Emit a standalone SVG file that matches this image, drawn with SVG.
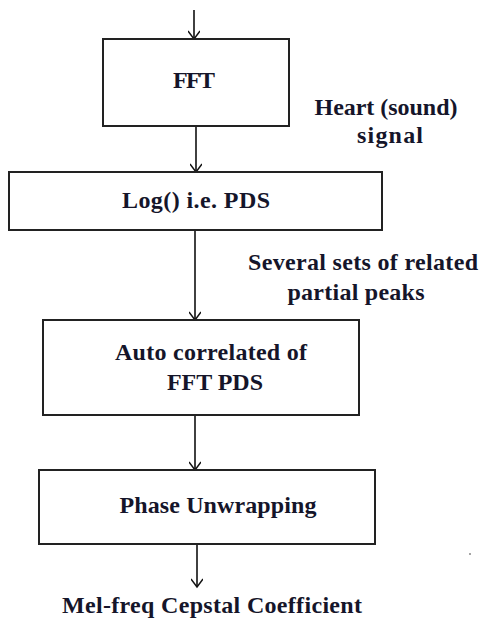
<svg xmlns="http://www.w3.org/2000/svg" width="483" height="621" viewBox="0 0 483 621">
<style>
.box{fill:#fff;stroke:#222;stroke-width:2}
.ln{fill:none;stroke:#111;stroke-width:1.6}
.t{font-family:'Liberation Serif','Times New Roman',serif;font-weight:bold;font-size:24px;fill:#15152a;text-anchor:middle}
</style>
<defs>
<marker id="ah" markerWidth="12" markerHeight="12" refX="10" refY="6" orient="auto" markerUnits="userSpaceOnUse">
<path d="M2,0 L10,6 L2,12" fill="none" stroke="#111" stroke-width="1.4"/>
</marker>
</defs>
<rect width="483" height="621" fill="#fff"/>
<g id="connectors">
<line class="ln" x1="194" y1="10" x2="194" y2="39" marker-end="url(#ah)"/>
<line class="ln" x1="196" y1="126" x2="196" y2="172" marker-end="url(#ah)"/>
<line class="ln" x1="195" y1="230" x2="195" y2="320" marker-end="url(#ah)"/>
<line class="ln" x1="195" y1="415" x2="195" y2="470" marker-end="url(#ah)"/>
<line class="ln" x1="197" y1="544" x2="197" y2="587" marker-end="url(#ah)"/>
</g>
<g id="fft">
<rect class="box" x="103" y="39" width="186" height="87"/>
<text class="t" x="194" y="88" textLength="42">FFT</text>
</g>
<g id="log">
<rect class="box" x="9" y="172" width="373" height="58"/>
<text class="t" x="196" y="208" textLength="148">Log() i.e. PDS</text>
</g>
<g id="auto">
<rect class="box" x="43" y="320" width="316" height="95"/>
<text class="t" x="211" y="360" textLength="192">Auto correlated of</text>
<text class="t" x="215" y="390" textLength="96">FFT PDS</text>
</g>
<g id="phase">
<rect class="box" x="39" y="470" width="336" height="74"/>
<text class="t" x="218" y="513" textLength="197">Phase Unwrapping</text>
</g>
<g id="labels">
<text class="t" x="386" y="115" textLength="143">Heart (sound)</text>
<text class="t" x="390" y="143" textLength="66">signal</text>
<text class="t" x="363" y="270" textLength="230">Several sets of related</text>
<text class="t" x="356" y="300" textLength="137">partial peaks</text>
<text class="t" x="212" y="613" textLength="300">Mel-freq Cepstal Coefficient</text>
<circle cx="470" cy="554" r="0.8" fill="#333"/>
</g>
</svg>
